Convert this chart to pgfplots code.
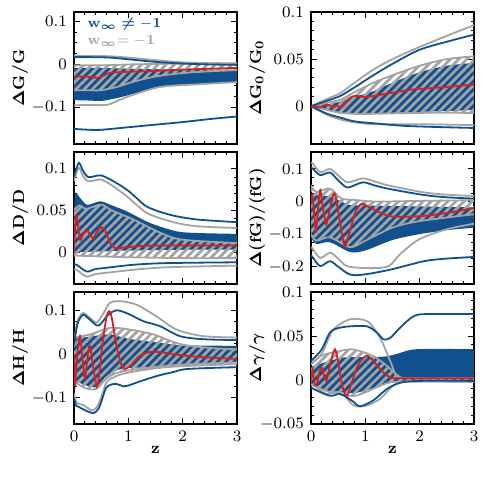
\documentclass[border=0pt]{standalone}
\usepackage{pgfplots}
\pgfplotsset{compat=1.18}
\usepgfplotslibrary{fillbetween}
\usetikzlibrary{patterns.meta}
\usepackage{amsmath}

\definecolor{bblue}{HTML}{10508F}
\definecolor{lgray}{HTML}{A3A3A3}
\definecolor{rred}{HTML}{D42020}

\pgfplotsset{
  panel/.style={
    scale only axis, width=81.5pt, height=66pt, anchor=north west,
    xmin=0, xmax=3, xtick={0,1,2,3}, minor x tick num=4,
    axis line style={line width=0.6pt},
    every tick/.style={black, line width=0.5pt},
    major tick length=3pt, minor tick length=1.6pt,
    tick label style={font=\fontsize{8}{9}\selectfont},
    label style={font=\fontsize{8.5}{10}\selectfont\boldmath},
    yticklabel style={/pgf/number format/fixed, /pgf/number format/precision=2},
    ylabel style={at={(axis description cs:-0.33,0.5)}, anchor=center},
    xlabel style={at={(axis description cs:0.5,-0.2)}, anchor=center},
  },
  toprow/.style={xticklabels={}},
  bfill/.style={fill=bblue, draw=none},
  hatch/.style={pattern={Lines[angle=45,distance=2.9pt,line width=1.4pt]}, pattern color=lgray, draw=none},
  gedge/.style={lgray, line width=0.9pt, smooth},
  nodraw/.style={draw=none, smooth},
  oblue/.style={bblue, line width=0.9pt, smooth},
  ogray/.style={lgray, line width=0.9pt, smooth},
  redl/.style={rred, line width=0.9pt, smooth},
}

\begin{document}
\begin{tikzpicture}

% ---------------- top left: Delta G / G
\begin{axis}[panel, toprow, at={(37pt,-6pt)},
  ymin=-0.185, ymax=0.122, ytick={-0.1,0,0.1}, minor y tick num=3,
  ylabel={$\Delta\mathrm{G/G}$}]
\addplot[nodraw, name path=bu] coordinates {(0,-0.008) (0.5,-0.008) (1,-0.010) (1.5,-0.011) (2,-0.012) (3,-0.013)};
\addplot[nodraw, name path=bl] coordinates {(0,-0.083) (0.3,-0.084) (0.5,-0.085) (0.8,-0.078) (1.1,-0.068) (1.5,-0.055) (2,-0.048) (2.5,-0.044) (3,-0.042)};
\addplot[bfill] fill between[of=bu and bl];
\addplot[gedge, name path=gu] coordinates {(0,-0.002) (0.5,-0.002) (1,0.0) (2,0.002) (3,0.003)};
\addplot[gedge, name path=gl] coordinates {(0,-0.060) (0.3,-0.060) (0.5,-0.060) (0.8,-0.052) (1.1,-0.040) (1.5,-0.028) (2,-0.020) (2.5,-0.016) (3,-0.013)};
\addplot[hatch] fill between[of=gu and gl];
\addplot[ogray] coordinates {(0,0.020) (0.3,0.020) (0.66,0.019) (1,0.016) (1.5,0.010) (2,0.005) (2.5,0.003) (3,0.002)};
\addplot[ogray] coordinates {(0,-0.095) (0.3,-0.094) (0.6,-0.094) (0.85,-0.082) (1.1,-0.070) (1.6,-0.052) (2.3,-0.046) (3,-0.041)};
\addplot[oblue] coordinates {(0,0.017) (0.3,0.017) (0.66,0.016) (1,0.012) (1.5,0.006) (2,0.002) (2.5,0.000) (3,-0.001)};
\addplot[oblue] coordinates {(0,-0.150) (0.3,-0.152) (0.5,-0.152) (1,-0.146) (1.5,-0.140) (2,-0.134) (2.5,-0.127) (3,-0.121)};
\addplot[redl] coordinates {(0,-0.028) (0.2,-0.028) (0.45,-0.031) (0.6,-0.022) (0.7,-0.019) (1,-0.017) (1.5,-0.015) (2,-0.012) (2.5,-0.010) (3,-0.008)};
\node[anchor=west, text=bblue, font=\fontsize{7.5}{9}\selectfont] at (axis description cs:0.04,0.91) {$\mathbf{w}_{\boldsymbol{\infty}}\boldsymbol{\neq}\mathbf{-1}$};
\node[anchor=west, text=lgray, font=\fontsize{7.5}{9}\selectfont] at (axis description cs:0.04,0.78) {$\mathbf{w}_{\boldsymbol{\infty}}\mathbf{=-1}$};
\end{axis}

% ---------------- top right: Delta G0 / G0
\begin{axis}[panel, toprow, at={(155.5pt,-6pt)},
  ymin=-0.04, ymax=0.1, ytick={0,0.05,0.1}, minor y tick num=4,
  ylabel={$\Delta\mathrm{G_0/G_0}$}]
\addplot[nodraw, name path=bu] coordinates {(0,0) (0.3,0.002) (0.54,0.005) (0.8,0.010) (1.15,0.016) (1.5,0.025) (2,0.036) (2.5,0.043) (3,0.046)};
\addplot[nodraw, name path=bl] coordinates {(0,0) (0.3,-0.004) (0.54,-0.007) (0.8,-0.008) (1.15,-0.008) (2,-0.006) (3,-0.004)};
\addplot[bfill] fill between[of=bu and bl];
\addplot[gedge, name path=gu] coordinates {(0,0) (0.3,0.004) (0.54,0.007) (0.8,0.015) (1.15,0.025) (1.5,0.033) (2,0.043) (2.5,0.050) (3,0.053)};
\addplot[gedge, name path=gl] coordinates {(0,0) (0.3,-0.004) (0.54,-0.007) (0.8,-0.008) (1.15,-0.008) (2,-0.007) (3,-0.007)};
\addplot[hatch] fill between[of=gu and gl];
\addplot[ogray] coordinates {(0,0) (0.3,0.008) (0.54,0.014) (0.8,0.025) (1.15,0.039) (1.5,0.050) (2,0.063) (2.6,0.077) (3,0.086)};
\addplot[ogray] coordinates {(0,0) (0.3,-0.009) (0.54,-0.014) (0.8,-0.017) (1.15,-0.019) (2,-0.019) (3,-0.020)};
\addplot[oblue] coordinates {(0,0) (0.3,0.006) (0.54,0.011) (0.8,0.020) (1.15,0.033) (1.5,0.045) (2,0.060) (2.6,0.070) (3,0.076)};
\addplot[oblue] coordinates {(0,0) (0.3,-0.008) (0.54,-0.012) (0.8,-0.016) (1.15,-0.018) (1.8,-0.021) (3,-0.023)};
\addplot[redl] coordinates {(0,0) (0.17,-0.001) (0.30,0.002) (0.41,-0.001) (0.48,0.001) (0.54,-0.002) (0.62,0.003) (0.72,0.009) (0.81,0.011) (1.03,0.010) (1.46,0.014) (1.9,0.018) (2.4,0.020) (3,0.023)};
\end{axis}

% ---------------- middle left: Delta D / D
\begin{axis}[panel, toprow, at={(37pt,-76pt)},
  ymin=-0.038, ymax=0.12, ytick={0,0.05,0.1}, minor y tick num=4,
  ylabel={$\Delta\mathrm{D/D}$}]
\addplot[nodraw, name path=bu] coordinates {(0,0.050) (0.03,0.071) (0.1,0.066) (0.23,0.057) (0.37,0.059) (0.5,0.061) (0.7,0.056) (0.97,0.049) (1.4,0.035) (1.89,0.025) (2.3,0.023) (3,0.022)};
\addplot[nodraw, name path=bl] coordinates {(0,0.0) (0.5,0.001) (1,0.002) (2,0.003) (3,0.003)};
\addplot[bfill] fill between[of=bu and bl];
\addplot[gedge, name path=gu] coordinates {(0,0.050) (0.1,0.056) (0.23,0.052) (0.5,0.057) (0.7,0.050) (1.1,0.039) (1.6,0.023) (2.0,0.015) (3,0.011)};
\addplot[gedge, name path=gl] coordinates {(0,-0.004) (0.5,-0.005) (1,-0.006) (2,-0.007) (3,-0.007)};
\addplot[hatch] fill between[of=gu and gl];
\addplot[ogray] coordinates {(0,0.085) (0.02,0.090) (0.09,0.101) (0.17,0.091) (0.26,0.085) (0.38,0.086) (0.5,0.087) (0.7,0.080) (0.97,0.067) (1.2,0.054) (1.4,0.045) (1.89,0.035) (2.3,0.031) (3,0.029)};
\addplot[ogray] coordinates {(0,-0.021) (0.05,-0.021) (0.23,-0.029) (0.4,-0.026) (0.54,-0.025) (1.09,-0.021) (1.7,-0.018) (3,-0.016)};
\addplot[oblue] coordinates {(0,0.090) (0.02,0.095) (0.09,0.107) (0.17,0.097) (0.26,0.090) (0.38,0.091) (0.5,0.092) (0.7,0.086) (0.97,0.075) (1.15,0.065) (1.33,0.055) (1.6,0.048) (1.89,0.043) (2.3,0.039) (3,0.036)};
\addplot[oblue] coordinates {(0,-0.015) (0.05,-0.015) (0.23,-0.023) (0.4,-0.020) (0.54,-0.019) (1.09,-0.015) (1.7,-0.013) (3,-0.012)};
\addplot[redl] coordinates {(0,0.0) (0.03,0.040) (0.06,0.041) (0.11,0.015) (0.17,0.022) (0.245,0.026) (0.3,0.020) (0.355,0.017) (0.43,0.025) (0.51,0.030) (0.58,0.025) (0.66,0.012) (0.75,0.005) (0.85,0.005) (0.97,0.006) (1.4,0.008) (2,0.008) (3,0.008)};
\end{axis}

% ---------------- middle right: Delta (fG) / (fG)
\begin{axis}[panel, toprow, at={(155.5pt,-76pt)},
  ymin=-0.253, ymax=0.152, ytick={-0.2,-0.1,0,0.1}, minor y tick num=3,
  ylabel={$\Delta\mathrm{(fG)/(fG)}$}]
\addplot[nodraw, name path=bu] coordinates {(0,0.020) (0.35,0.015) (0.7,-0.010) (1,-0.012) (2,-0.015) (3,-0.018)};
\addplot[nodraw, name path=bl] coordinates {(0,-0.110) (0.1,-0.130) (0.35,-0.125) (0.72,-0.155) (1,-0.150) (1.5,-0.118) (2,-0.100) (2.5,-0.088) (3,-0.080)};
\addplot[bfill] fill between[of=bu and bl];
\addplot[gedge, name path=gu] coordinates {(0,0.050) (0.1,0.030) (0.35,0.040) (0.55,0.010) (0.8,0.005) (1.2,0.0) (2,0.002) (3,0.004)};
\addplot[gedge, name path=gl] coordinates {(0,-0.100) (0.1,-0.120) (0.35,-0.110) (0.72,-0.140) (1,-0.120) (1.5,-0.080) (2,-0.060) (3,-0.039)};
\addplot[hatch] fill between[of=gu and gl];
\addplot[ogray] coordinates {(0,0.120) (0.04,0.115) (0.17,0.090) (0.35,0.100) (0.5,0.080) (0.66,0.059) (0.8,0.064) (0.97,0.071) (1.2,0.060) (1.46,0.048) (2.08,0.028) (2.5,0.021) (3,0.017)};
\addplot[ogray] coordinates {(0,-0.140) (0.04,-0.147) (0.17,-0.173) (0.35,-0.157) (0.5,-0.175) (0.66,-0.198) (0.97,-0.204) (1.3,-0.203) (1.46,-0.195) (1.65,-0.160) (2.0,-0.115) (2.5,-0.085) (3,-0.068)};
\addplot[oblue] coordinates {(0,0.105) (0.04,0.100) (0.17,0.081) (0.35,0.089) (0.5,0.065) (0.66,0.043) (0.8,0.050) (0.97,0.059) (1.2,0.048) (1.46,0.038) (2.08,0.020) (2.5,0.013) (3,0.009)};
\addplot[oblue] coordinates {(0,-0.165) (0.04,-0.173) (0.17,-0.198) (0.35,-0.183) (0.5,-0.200) (0.72,-0.224) (0.97,-0.224) (1.46,-0.209) (2.08,-0.183) (2.5,-0.175) (3,-0.170)};
\addplot[redl] coordinates {(0,0.0) (0.02,0.020) (0.05,-0.020) (0.09,-0.090) (0.13,-0.020) (0.17,0.035) (0.22,-0.020) (0.28,-0.070) (0.35,-0.020) (0.43,0.025) (0.5,-0.030) (0.58,-0.110) (0.63,-0.137) (0.7,-0.100) (0.8,-0.040) (0.9,-0.010) (0.97,-0.008) (1.1,-0.020) (1.3,-0.036) (1.5,-0.046) (2.0,-0.045) (2.5,-0.035) (3,-0.020)};
\end{axis}

% ---------------- bottom left: Delta H / H
\begin{axis}[panel, at={(37pt,-146pt)},
  ymin=-0.16, ymax=0.142, ytick={-0.1,0,0.1}, minor y tick num=3,
  ylabel={$\Delta\mathrm{H/H}$}, xlabel={$\mathbf{z}$}]
\addplot[nodraw, name path=bu] coordinates {(0,0.035) (0.3,0.040) (0.66,0.045) (1.0,0.035) (1.5,0.027) (2,0.020) (3,0.019)};
\addplot[nodraw, name path=bl] coordinates {(0,-0.060) (0.23,-0.072) (0.42,-0.075) (0.6,-0.050) (0.9,-0.033) (1.5,-0.030) (2,-0.025) (3,-0.020)};
\addplot[bfill] fill between[of=bu and bl];
\addplot[gedge, name path=gu] coordinates {(0,0.038) (0.3,0.045) (0.66,0.060) (1.03,0.056) (1.46,0.045) (1.95,0.023) (2.5,0.014) (3,0.011)};
\addplot[gedge, name path=gl] coordinates {(0,-0.064) (0.23,-0.079) (0.42,-0.079) (0.6,-0.056) (0.85,-0.041) (1.46,-0.030) (2,-0.024) (3,-0.019)};
\addplot[hatch] fill between[of=gu and gl];
\addplot[ogray] coordinates {(0,0.020) (0.04,0.060) (0.08,0.079) (0.17,0.094) (0.3,0.082) (0.42,0.072) (0.55,0.095) (0.66,0.117) (0.85,0.121) (1.15,0.113) (1.52,0.086) (1.89,0.056) (2.38,0.041) (3,0.038)};
\addplot[ogray] coordinates {(0,-0.090) (0.04,-0.110) (0.09,-0.114) (0.18,-0.117) (0.33,-0.129) (0.42,-0.121) (0.48,-0.106) (0.55,-0.080) (0.6,-0.064) (0.7,-0.055) (0.88,-0.046) (1.2,-0.038) (1.8,-0.029) (3,-0.023)};
\addplot[oblue] coordinates {(0,0.020) (0.04,0.055) (0.08,0.075) (0.17,0.090) (0.3,0.078) (0.45,0.065) (0.63,0.090) (0.79,0.100) (1.0,0.092) (1.28,0.075) (1.58,0.064) (1.95,0.041) (2.38,0.034) (3,0.032)};
\addplot[oblue] coordinates {(0,-0.100) (0.04,-0.118) (0.09,-0.121) (0.21,-0.129) (0.36,-0.135) (0.45,-0.125) (0.51,-0.106) (0.58,-0.080) (0.64,-0.072) (0.76,-0.068) (0.92,-0.074) (1.0,-0.072) (1.25,-0.061) (1.56,-0.049) (1.8,-0.042) (2.1,-0.034) (3,-0.030)};
\addplot[redl] coordinates {(0,0.0) (0.02,-0.070) (0.06,0.0) (0.11,0.041) (0.155,-0.010) (0.2,-0.056) (0.245,-0.010) (0.29,0.019) (0.355,-0.030) (0.42,-0.075) (0.47,-0.040) (0.53,0.030) (0.6,0.085) (0.65,0.098) (0.7,0.080) (0.78,0.020) (0.86,-0.020) (0.94,-0.034) (1.05,-0.025) (1.2,-0.005) (1.4,0.005) (1.6,0.004) (2.07,-0.004) (2.5,-0.008) (3,-0.011)};
\end{axis}

% ---------------- bottom right: Delta gamma / gamma
\begin{axis}[panel, at={(155.5pt,-146pt)},
  ymin=-0.05, ymax=0.1, ytick={-0.05,0,0.05,0.1}, minor y tick num=4,
  ylabel={$\Delta\gamma/\gamma$}, xlabel={$\mathbf{z}$}]
\addplot[nodraw, name path=bu] coordinates {(0,0.015) (0.54,0.025) (0.9,0.026) (1.15,0.026) (1.4,0.027) (1.6,0.030) (1.95,0.035) (3,0.035)};
\addplot[nodraw, name path=bl] coordinates {(0,-0.006) (0.3,-0.012) (0.6,-0.014) (0.8,-0.015) (1.1,-0.010) (1.4,-0.004) (1.7,-0.001) (2,0.0) (3,0.0)};
\addplot[bfill] fill between[of=bu and bl];
\addplot[gedge, name path=gu] coordinates {(0,0.018) (0.2,0.028) (0.54,0.033) (0.72,0.035) (0.9,0.033) (1.15,0.027) (1.4,0.016) (1.6,0.005) (1.8,0.002) (3,0.002)};
\addplot[gedge, name path=gl] coordinates {(0,-0.005) (0.3,-0.013) (0.6,-0.017) (0.8,-0.018) (1.0,-0.014) (1.3,-0.006) (1.6,-0.002) (3,-0.002)};
\addplot[hatch] fill between[of=gu and gl];
\addplot[ogray] coordinates {(0,0.018) (0.04,0.020) (0.2,0.030) (0.41,0.057) (0.72,0.069) (1.03,0.067) (1.2,0.055) (1.34,0.039) (1.5,0.015) (1.58,0.004) (1.8,0.002) (3,0.002)};
\addplot[ogray] coordinates {(0,-0.005) (0.04,-0.006) (0.29,-0.016) (0.54,-0.014) (0.79,-0.029) (1.03,-0.029) (1.28,-0.021) (1.52,-0.006) (1.8,-0.002) (3,-0.002)};
\addplot[oblue] coordinates {(0,0.022) (0.04,0.024) (0.2,0.035) (0.35,0.054) (0.5,0.059) (0.72,0.061) (1.03,0.061) (1.21,0.054) (1.34,0.046) (1.46,0.048) (1.6,0.057) (1.77,0.067) (1.95,0.074) (2.3,0.075) (3,0.075)};
\addplot[oblue] coordinates {(0,-0.008) (0.04,-0.010) (0.35,-0.018) (0.54,-0.016) (0.79,-0.025) (0.9,-0.030) (1.15,-0.023) (1.4,-0.010) (1.65,-0.003) (2,-0.001) (3,-0.001)};
\addplot[redl] coordinates {(0,0.0) (0.03,0.012) (0.06,-0.003) (0.1,-0.006) (0.16,0.010) (0.2,0.014) (0.25,0.003) (0.29,0.0) (0.36,0.020) (0.44,0.035) (0.5,0.020) (0.58,-0.008) (0.66,-0.018) (0.74,-0.005) (0.85,0.015) (1.0,0.027) (1.1,0.025) (1.25,0.014) (1.46,0.003) (1.8,0.002) (3,0.002)};
\end{axis}

\path (0,0) rectangle (242.5pt,-242.5pt);
\end{tikzpicture}
\end{document}
